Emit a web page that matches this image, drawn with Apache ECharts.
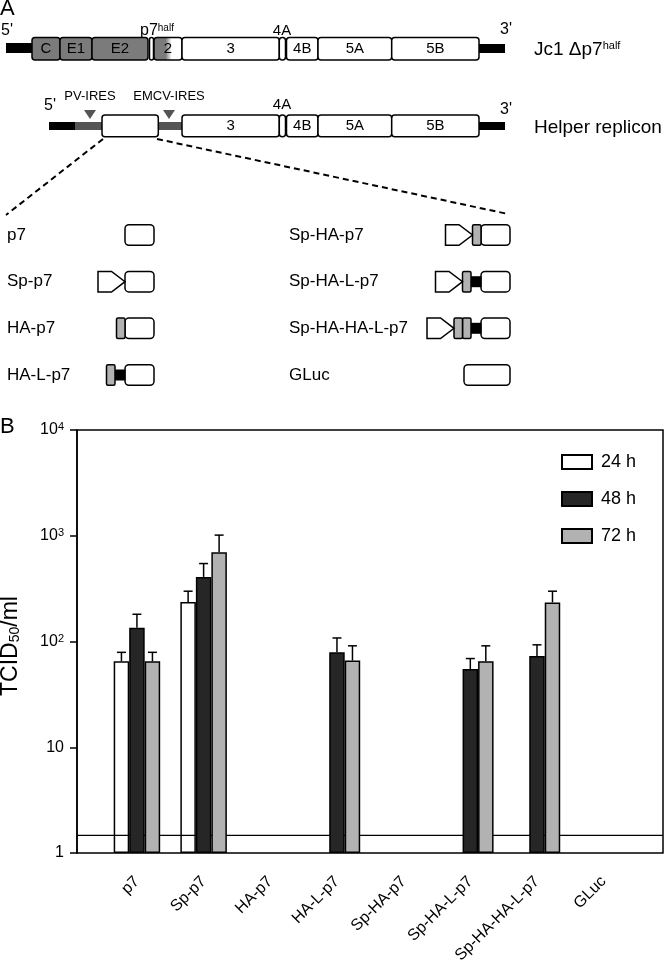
<!DOCTYPE html>
<html><head><meta charset="utf-8">
<script src="https://cdn.jsdelivr.net/npm/echarts@6/dist/echarts.min.js"></script>
<style>html,body{margin:0;padding:0;background:#fff}#c{width:666px;height:966px}</style>
</head><body><div id="c"></div>
<script>
// ---------- Panel B data ----------
const categories = ['p7','Sp-p7','HA-p7','HA-L-p7','Sp-HA-p7','Sp-HA-L-p7','Sp-HA-HA-L-p7','GLuc'];
const seriesNames = ['24 h','48 h','72 h'];
const titer24 = [65, 236, null, null, null, null, null, null];
const sd24    = [14, 63, null, null, null, null, null, null];
const titer48 = [135, 408, null, 79, null, 55, 73, null];
const sd48    = [46, 138, null, 29, null, 14, 20, null];
const titer72 = [65, 700, null, 66, null, 65, 234, null];
const sd72    = [14, 314, null, 25, null, 26, 65, null];
const detectionLimit = 1.47;
const yTickLabels = {1:'1', 10:'10', 100:'10^2', 1000:'10^3', 10000:'10^4'};

// ---------- Panel A content ----------
const genomeSegments = ['C','E1','E2','','2','3','','4B','5A','5B'];
const helperSegments = ['','3','','4B','5A','5B'];
const constructNames = ['p7','Sp-p7','HA-p7','HA-L-p7','Sp-HA-p7','Sp-HA-L-p7','Sp-HA-HA-L-p7','GLuc'];
const constructParts = [['p7'],['Sp','p7'],['HA','p7'],['HA','L','p7'],['Sp','HA','p7'],['Sp','HA','L','p7'],['Sp','HA','HA','L','p7'],['GLuc']];

const FONT = '"Liberation Sans", Arial, Helvetica, sans-serif';
const DARK = '#262626', LIGHT = '#b2b2b2', MID = '#7b7b7b', IRES = '#555555';

const g = [];
function rect(x1,x2,y1,y2,fill,stroke,r){ g.push({type:'rect', shape:{x:x1,y:y1,width:x2-x1,height:y2-y1,r:r||0}, style:{fill:fill, stroke:stroke?'#000':null, lineWidth:stroke?1.5:0}}); }
function txt(x,y,text,size,opts){ g.push({type:'text', x:x, y:y, style:Object.assign({text:text, fontSize:size, fontFamily:FONT, fill:'#000', align:'center', verticalAlign:'middle'}, opts||{})}); }
const supRich = {s:{fontSize:10, fontFamily:FONT, verticalAlign:'top', padding:[0,0,6,0]}};

txt(0,9,'A',22,{align:'left'});
// row 1 : Jc1
const r1 = [37.5,60];
rect(6,33,43,53,'#000');
const edges1 = [[32,60],[60,92],[92,148],[149.5,153.5],[154,182],[182,279.3],[279.3,285.5],[286.5,318],[318,391.7],[391.7,479]];
const grad = new echarts.graphic.LinearGradient(0,0,1,0,[{offset:0,color:MID},{offset:0.42,color:MID},{offset:0.62,color:'#fff'},{offset:1,color:'#fff'}]);
const fills1 = [MID,MID,MID,'#fff',grad,'#fff','#fff','#fff','#fff','#fff'];
for (let i=0;i<genomeSegments.length;i++){
  const x1 = edges1[i][0], x2 = edges1[i][1];
  rect(x1,x2,r1[0],r1[1],fills1[i],true,3);
  if (genomeSegments[i]) txt((x1+x2)/2,(r1[0]+r1[1])/2+0.5,genomeSegments[i],15);
}
rect(479,505,44,53,'#000');
txt(1,31,"5'",16,{align:'left'});
txt(140,31,'p7{s|half}',16,{align:'left', rich:supRich});
txt(282,31,'4A',15);
txt(506,30,"3'",16);
txt(534,50,'Jc1 Δp7{s|half}',19,{align:'left', rich:{s:{fontSize:11, fontFamily:FONT, verticalAlign:'top', padding:[0,0,7,0]}}});
// row 2 : helper
const r2 = [115,136.7];
rect(49,75,122,130,'#000');
rect(75,103,122,130,IRES);
rect(157,183,122,130,IRES);
rect(102,158.3,r2[0],r2[1],'#fff',true,3);
const edges2 = [[182,279.3],[279.3,285.5],[286.5,318],[318,391.7],[391.7,479]];
for (let i=1;i<helperSegments.length;i++){
  const e = edges2[i-1];
  rect(e[0],e[1],r2[0],r2[1],'#fff',true,3);
  if (helperSegments[i]) txt((e[0]+e[1])/2,(r2[0]+r2[1])/2+0.5,helperSegments[i],15);
}
rect(479,505,122,130,'#000');
g.push({type:'polygon', shape:{points:[[84,110],[96,110],[90,119]]}, style:{fill:IRES}});
g.push({type:'polygon', shape:{points:[[163,110],[175,110],[169,119]]}, style:{fill:IRES}});
txt(90,96,'PV-IRES',13);
txt(169,96,'EMCV-IRES',13);
txt(50,106,"5'",16);
txt(282,105,'4A',15);
txt(506,110,"3'",16);
txt(534,128,'Helper replicon',19,{align:'left'});
// dashed zoom lines
g.push({type:'line', shape:{x1:103,y1:139,x2:6,y2:215}, style:{stroke:'#000', lineWidth:2, lineDash:[6,4]}});
g.push({type:'line', shape:{x1:157,y1:139,x2:508,y2:214}, style:{stroke:'#000', lineWidth:2, lineDash:[6,4]}});
// construct list
const partW = {p7:29, GLuc:46, L:10, HA:8.5, Sp:27};
const rowY = [235,281.7,328.3,375];
constructNames.forEach((name,idx)=>{
  const col = idx<4?0:1, yc = rowY[idx%4];
  txt(col?289:7, yc, name, 17, {align:'left'});
  let right = col?510:154;
  const parts = constructParts[idx].slice().reverse();
  parts.forEach(p=>{
    const w = partW[p], left = right - w;
    if (p==='p7'||p==='GLuc') rect(left,right,yc-10.3,yc+10.3,'#fff',true,4);
    else if (p==='HA') rect(left,right,yc-10.3,yc+10.3,LIGHT,true,1.5);
    else if (p==='L') rect(left,right+0.5,yc-5.5,yc+5.5,'#000');
    else if (p==='Sp') g.push({type:'polygon', shape:{points:[[left,yc-10.3],[left+13.5,yc-10.3],[right,yc],[left+13.5,yc+10.3],[left,yc+10.3]]}, style:{fill:'#fff', stroke:'#000', lineWidth:1.5}});
    right = left;
  });
});
// panel B label + y title
txt(0,427,'B',22,{align:'left'});
g.push({type:'text', x:11, y:646, rotation:Math.PI/2, style:{text:'TCID{b|50}/ml', fontSize:23, fontFamily:FONT, fill:'#000', align:'center', verticalAlign:'middle', rich:{b:{fontSize:14, fontFamily:FONT, verticalAlign:'bottom'}}}});

// ---------- Panel B chart ----------
const BAR_W = 15.5, CAP = 4.5;
function barSeries(name, values, color){
  return {name:name, type:'bar', xAxisIndex:0, yAxisIndex:0, barWidth:BAR_W, barGap:'0%', z:2,
    data: values.map(v=> v==null?'-':v),
    itemStyle:{color:color, borderColor:'#000', borderWidth:1.5}, silent:true};
}
function errorSeries(values, sds, kk){
  const data = [];
  values.forEach((v,i)=>{ if (v!=null) data.push([i, v, sds[i]]); });
  return {type:'custom', xAxisIndex:0, yAxisIndex:0, z:3, silent:true, encode:{x:0,y:1}, data:data,
    renderItem:function(params, api){
      const i = api.value(0), v = api.value(1), s = api.value(2);
      const b = api.coord([i, v]), t = api.coord([i, v+s]);
      const x = b[0] + (kk-1)*BAR_W;
      return {type:'group', children:[
        {type:'line', shape:{x1:x,y1:b[1],x2:x,y2:t[1]}, style:{stroke:'#000', lineWidth:1.5}},
        {type:'line', shape:{x1:x-CAP,y1:t[1],x2:x+CAP,y2:t[1]}, style:{stroke:'#000', lineWidth:1.5}}
      ]};
    }};
}

const chart = echarts.init(document.getElementById('c'), null, {renderer:'canvas'});
chart.setOption({
  animation:false,
  backgroundColor:'#fff',
  textStyle:{fontFamily:FONT},
  graphic:{elements:g},
  grid:[
    {left:103.6, right:29, top:430, bottom:113},
    {left:77, right:3, top:430, bottom:113, show:true, borderColor:'#000', borderWidth:1.5, backgroundColor:'transparent'}
  ],
  legend:{data:seriesNames, orient:'vertical', left:556, top:448, itemWidth:30, itemHeight:14, itemGap:19, icon:'rect',
    textStyle:{fontSize:18, color:'#000', fontFamily:FONT, lineHeight:14, padding:[0,0,0,4]}},
  xAxis:[
    {type:'category', gridIndex:0, data:categories, axisLine:{show:false},
     axisTick:{alignWithLabel:true, length:6, lineStyle:{color:'#000', width:1.5}},
     axisLabel:{rotate:45, fontSize:16, color:'#000', margin:26, interval:0, fontFamily:FONT}, splitLine:{show:false}},
    {type:'value', gridIndex:1, min:0, max:1, show:false}
  ],
  yAxis:[
    {type:'log', gridIndex:0, logBase:10, min:1, max:10000, splitNumber:4, offset:26.6,
     axisLine:{show:true, lineStyle:{color:'#000', width:1.5}},
     axisTick:{show:true, length:7, lineStyle:{color:'#000', width:1.5}},
     splitLine:{show:false},
     axisLabel:{fontSize:16, color:'#000', margin:13, fontFamily:FONT,
       formatter:function(v){ const s = yTickLabels[Math.round(v)] || ''; const p = s.split('^'); return p.length>1 ? p[0]+'{s|'+p[1]+'}' : s; },
       rich:{s:{fontSize:11, fontFamily:FONT, color:'#000', verticalAlign:'top', padding:[0,0,6,0]}}}},
    {type:'log', gridIndex:1, logBase:10, min:1, max:10000, show:false}
  ],
  series:[
    {type:'line', xAxisIndex:1, yAxisIndex:1, data:[[0,detectionLimit],[1,detectionLimit]], symbol:'none', silent:true, z:1,
     lineStyle:{color:'#000', width:1.3}},
    barSeries(seriesNames[0], titer24, 'rgba(255,255,255,0)'),
    barSeries(seriesNames[1], titer48, DARK),
    barSeries(seriesNames[2], titer72, LIGHT),
    errorSeries(titer24, sd24, 0),
    errorSeries(titer48, sd48, 1),
    errorSeries(titer72, sd72, 2)
  ]
});
</script></body></html>
